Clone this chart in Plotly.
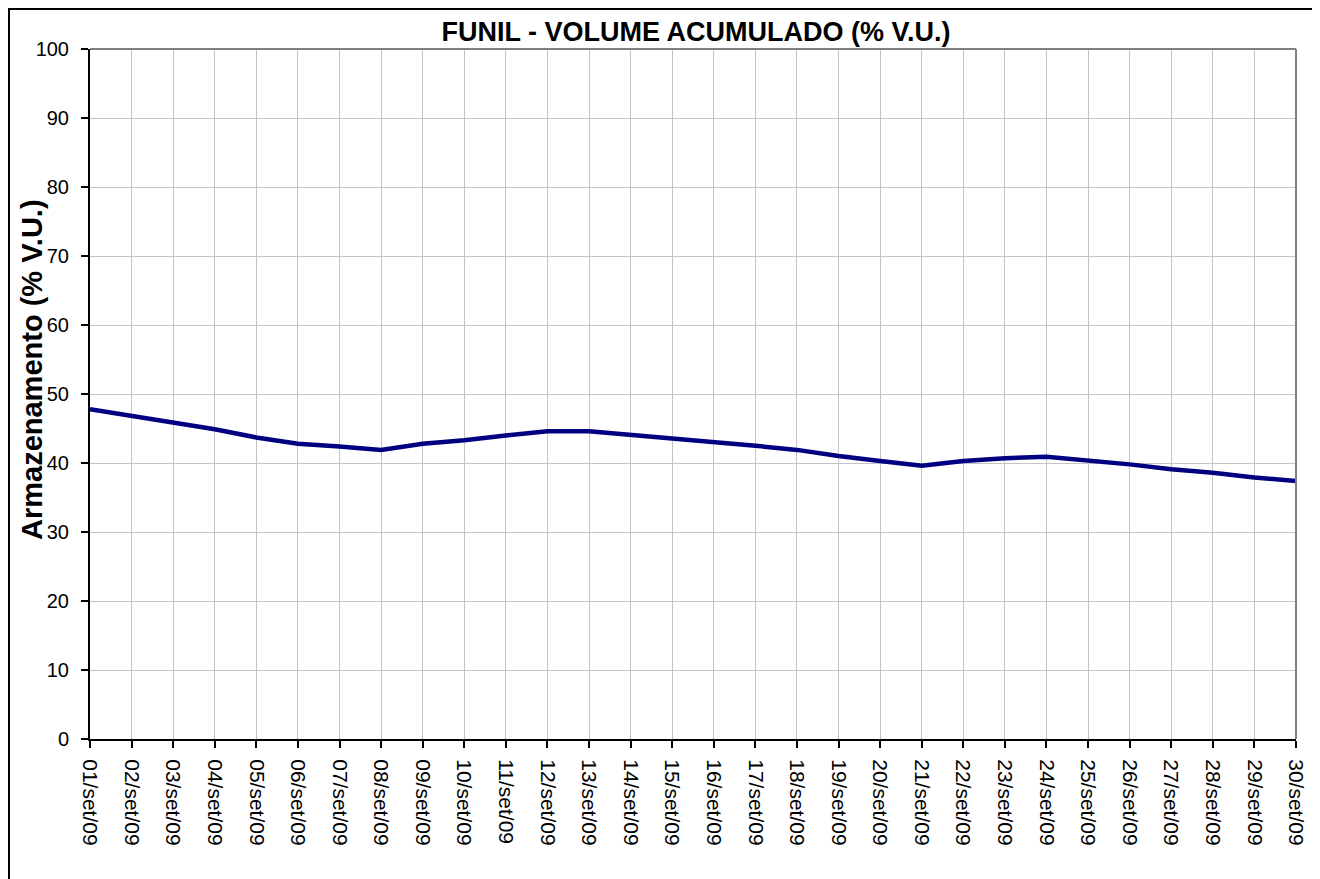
import plotly.graph_objects as go

dates = [f"{d:02d}/set/09" for d in range(1, 31)]
volume = [47.8, 46.8, 45.8, 44.9, 43.7, 42.8, 42.4, 41.9, 42.8, 43.3,
          44.0, 44.6, 44.6, 44.1, 43.6, 43.1, 42.5, 41.9, 41.0, 40.3,
          39.6, 40.3, 40.7, 40.9, 40.4, 39.8, 39.1, 38.6, 37.9, 37.4]
y_ticks = list(range(0, 101, 10))

W, H = 1312, 871
L, R, T, B = 82, 24, 41, 140
pw, ph = W - L - R, H - T - B

fig = go.Figure()
fig.add_trace(go.Scatter(x=list(range(len(dates))), y=volume, mode="lines",
                         line=dict(color="#000080", width=4.5), showlegend=False,
                         hoverinfo="skip"))

fig.update_layout(
    width=W, height=H,
    margin=dict(l=L, r=R, t=T, b=B),
    paper_bgcolor="white", plot_bgcolor="white",
    font=dict(family="Liberation Sans, Arial, sans-serif", color="black", size=20),
    title=dict(text="<b>FUNIL - VOLUME ACUMULADO (% V.U.)</b>",
               x=688 / W, xanchor="center", y=1 - 24 / H, yanchor="middle",
               font=dict(size=27)),
    xaxis=dict(
        range=[0, len(dates) - 1],
        tickmode="array", tickvals=list(range(len(dates))), ticktext=dates,
        tickangle=90, ticks="outside", ticklen=7, tickcolor="black", tickwidth=1.5,
        ticklabelstandoff=7,
        showgrid=True, gridcolor="#c4c4c4", gridwidth=1,
        showline=True, linecolor="black", linewidth=2,
        zeroline=False, tickfont=dict(size=21),
    ),
    yaxis=dict(
        range=[0, 100], tickmode="array", tickvals=y_ticks,
        ticks="outside", ticklen=7, tickcolor="black", tickwidth=1.5,
        ticklabelstandoff=8,
        showgrid=True, gridcolor="#c4c4c4", gridwidth=1,
        showline=True, linecolor="black", linewidth=2,
        zeroline=False, tickfont=dict(size=20),
    ),
    annotations=[
        dict(text="<b>Armazenamento (% V.U.)</b>", xref="paper", yref="paper",
             x=(24 - L) / pw, y=(T + ph - 362) / ph, xanchor="center", yanchor="middle",
             textangle=-90, showarrow=False, font=dict(size=29)),
    ],
    shapes=[
        dict(type="line", xref="paper", yref="paper", x0=0, x1=1, y0=1, y1=1,
             line=dict(color="#808080", width=2)),
        dict(type="line", xref="paper", yref="paper", x0=1, x1=1, y0=0, y1=1,
             line=dict(color="#808080", width=2)),
        dict(type="rect", xref="paper", yref="paper",
             x0=(1 - L) / pw, x1=(1307 - L) / pw,
             y0=(T + ph - 900) / ph, y1=(T + ph - 1) / ph,
             line=dict(color="black", width=2), fillcolor="rgba(0,0,0,0)", layer="below"),
    ],
)

fig.write_html("out.html")
